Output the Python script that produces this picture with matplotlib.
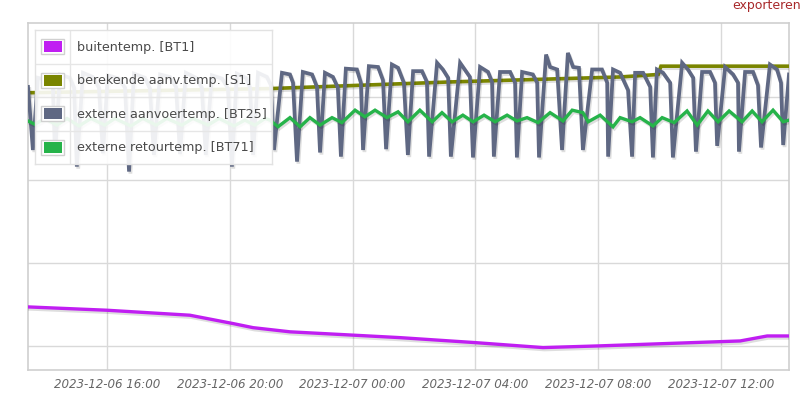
import matplotlib
matplotlib.use('Agg')
import matplotlib.pyplot as plt
import matplotlib.dates as mdates
import matplotlib.patheffects as pe
from matplotlib.patches import Rectangle
from datetime import datetime, timedelta

BASE = datetime(2023, 12, 6)

series_labels = ["buitentemp. [BT1]", "berekende aanv.temp. [S1]",
                 "externe aanvoertemp. [BT25]", "externe retourtemp. [BT71]"]
series_colors = ["#c01ef2", "#7a8500", "#5f6883", "#26b34a"]

# hours since 2023-12-06 00:00 / temperature
buiten_h = [13.43, 16.00, 18.70, 19.26, 20.10, 20.76, 21.96, 24.01, 25.54, 27.99, 30.20, 31.99, 36.62, 37.50, 38.21]
buiten_t = [4.7, 4.3, 3.7, 3.3, 2.7, 2.2, 1.7, 1.3, 1.0, 0.4, -0.2, 0.0, 0.6, 1.2, 1.2]

berek_h = [13.43, 21.31, 27.17, 32.71, 33.95, 34.04, 38.21]
berek_t = [30.5, 31.0, 31.8, 32.4, 32.7, 33.7, 33.7]

aanv_h = [13.43, 13.59, 13.75, 14.08, 14.24, 14.31, 14.47, 14.79, 14.93, 15.02,
          15.22, 15.54, 15.74, 15.87, 16.03, 16.39, 16.59, 16.72, 16.88, 17.24,
          17.40, 17.53, 17.73, 18.05, 18.25, 18.38, 18.57, 18.90, 19.09, 19.22,
          19.42, 19.75, 19.94, 20.07, 20.23, 20.53, 20.66, 20.76, 20.92, 21.21,
          21.34, 21.44, 21.70, 21.96, 22.06, 22.19, 22.38, 22.68, 22.84, 22.94,
          23.10, 23.36, 23.52, 23.62, 23.78, 24.14, 24.27, 24.34, 24.53, 24.83,
          24.99, 25.09, 25.28, 25.48, 25.67, 25.80, 25.97, 26.26, 26.42, 26.49,
          26.75, 26.94, 27.11, 27.20, 27.50, 27.82, 27.92, 28.15, 28.41, 28.54,
          28.60, 28.80, 29.13, 29.29, 29.35, 29.52, 29.87, 30.01, 30.07, 30.30,
          30.43, 30.66, 30.82, 31.01, 31.18, 31.37, 31.50, 31.80, 32.12, 32.29,
          32.32, 32.48, 32.71, 32.97, 33.10, 33.20, 33.46, 33.69, 33.78, 33.91,
          34.11, 34.34, 34.43, 34.73, 34.92, 35.09, 35.18, 35.38, 35.64, 35.80,
          35.87, 36.13, 36.39, 36.55, 36.58, 36.78, 37.04, 37.20, 37.30, 37.59,
          37.82, 37.95, 38.02, 38.21]
aanv_t = [31.2, 23.6, 32.3, 32.0, 31.1, 23.0, 32.7, 32.3, 31.1, 21.6,
          32.9, 32.4, 31.1, 23.2, 32.6, 32.2, 31.1, 21.0, 32.8, 32.3,
          31.0, 23.0, 32.7, 32.4, 31.2, 23.1, 32.9, 32.3, 31.1, 23.0,
          32.6, 32.2, 31.0, 21.6, 32.8, 32.3, 31.1, 23.0, 32.9, 32.4,
          31.4, 23.6, 32.9, 32.7, 31.7, 22.2, 33.0, 32.7, 31.2, 23.3,
          32.9, 32.4, 31.1, 22.8, 33.4, 33.3, 31.7, 23.6, 33.7, 33.6,
          32.0, 23.7, 33.9, 33.5, 31.7, 23.0, 33.1, 33.1, 31.8, 22.8,
          34.1, 33.3, 32.3, 22.8, 34.1, 32.4, 22.7, 33.6, 33.0, 31.8,
          22.8, 33.0, 33.0, 31.7, 22.7, 33.0, 32.7, 31.7, 22.7, 35.1,
          33.6, 33.3, 23.6, 35.3, 33.6, 33.5, 23.6, 33.3, 33.3, 31.7,
          22.8, 33.3, 32.9, 30.8, 22.8, 32.9, 32.9, 31.2, 22.7, 33.3,
          32.9, 31.7, 22.7, 34.1, 33.3, 32.3, 23.4, 33.0, 33.0, 31.7,
          24.1, 33.6, 32.7, 31.7, 23.4, 33.0, 33.0, 31.4, 23.9, 33.9,
          33.3, 31.7, 24.2, 32.7]

retour_h = [13.43, 13.65, 13.98, 14.37, 14.70, 15.09, 15.48, 15.93, 16.26, 16.78,
            17.17, 17.60, 17.95, 18.44, 18.80, 19.29, 19.65, 20.14, 20.49, 20.82,
            21.15, 21.31, 21.57, 21.96, 22.29, 22.61, 22.94, 23.33, 23.65, 24.08,
            24.40, 24.73, 25.12, 25.48, 25.80, 26.19, 26.59, 26.91, 27.24, 27.59,
            27.92, 28.28, 28.64, 29.03, 29.35, 29.68, 30.04, 30.43, 30.85, 31.15,
            31.50, 31.67, 32.06, 32.48, 32.71, 33.10, 33.36, 33.78, 34.08, 34.47,
            34.89, 35.22, 35.57, 35.90, 36.26, 36.68, 37.01, 37.33, 37.69, 38.02,
            38.21]
retour_t = [27.1, 26.7, 27.4, 26.6, 27.4, 26.5, 27.4, 26.6, 27.4, 26.5,
            27.4, 26.6, 27.4, 26.6, 27.4, 26.6, 27.4, 26.5, 27.2, 26.6,
            27.4, 27.2, 26.4, 27.5, 26.4, 27.5, 26.6, 27.5, 26.9, 28.4,
            27.6, 28.4, 27.5, 28.2, 27.0, 28.4, 27.0, 28.1, 27.0, 27.8,
            27.0, 27.8, 27.0, 27.8, 27.1, 27.5, 26.9, 28.1, 27.1, 28.4,
            28.1, 27.0, 27.8, 26.4, 27.5, 27.0, 27.5, 26.5, 27.5, 26.9,
            28.3, 26.6, 28.3, 27.0, 28.3, 27.0, 28.3, 27.0, 28.4, 27.0,
            27.2]

tick_hours = [16, 20, 24, 28, 32, 36]
x_start_h, x_end_h = 13.43, 38.21
y_grid = [0, 10, 20, 30]


def to_dt(hours):
    return [BASE + timedelta(hours=h) for h in hours]


W, H = 800, 399
fig = plt.figure(figsize=(W / 100, H / 100), dpi=100)
ax = fig.add_axes([28 / W, 1 - 370 / H, (789 - 28) / W, (370 - 23) / H])

shadow = [pe.SimpleLineShadow(offset=(1, -1.5), shadow_color='black', alpha=0.13), pe.Normal()]

data = [(buiten_h, buiten_t, 2.4), (berek_h, berek_t, 2.6),
        (aanv_h, aanv_t, 2.7), (retour_h, retour_t, 2.4)]
for (hh, tt, lw), col in zip(data, series_colors):
    ax.plot(to_dt(hh), tt, color=col, lw=lw, solid_joinstyle='miter',
            path_effects=shadow, zorder=3)

ax.set_xlim(BASE + timedelta(hours=x_start_h), BASE + timedelta(hours=x_end_h))
ax.set_ylim(-2.9, 38.9)
ax.set_yticks(y_grid)
ax.set_yticklabels([])
ax.tick_params(axis='y', length=0)
ax.set_xticks(to_dt(tick_hours))
ax.xaxis.set_major_formatter(mdates.DateFormatter('%Y-%m-%d %H:%M'))
ax.tick_params(axis='x', length=0, pad=6, labelsize=8.6, labelcolor='#666666')
for lab in ax.get_xticklabels():
    lab.set_fontstyle('italic')
ax.grid(True, color='#d9d9d9', lw=1)
ax.set_axisbelow(True)
for s in ax.spines.values():
    s.set_color('#cfcfcf')
    s.set_linewidth(1.2)

# legend box
lx0, ly0, lw_, lh_ = 35, 30, 237, 134
lax = fig.add_axes([lx0 / W, 1 - (ly0 + lh_) / H, lw_ / W, lh_ / H])
lax.set_xlim(0, lw_)
lax.set_ylim(lh_, 0)
lax.patch.set_facecolor('white')
lax.patch.set_alpha(0.9)
lax.set_xticks([])
lax.set_yticks([])
for s in lax.spines.values():
    s.set_color('#e2e2e2')
    s.set_linewidth(1)
row_h = lh_ / 4
lax.plot([35, 35], [0, lh_], color='#e6e6e6', lw=1)
for i, (lab, col) in enumerate(zip(series_labels, series_colors)):
    yc = row_h * i + row_h / 2
    if i > 0:
        lax.plot([0, lw_], [row_h * i, row_h * i], color='#e6e6e6', lw=1)
    lax.add_patch(Rectangle((6, yc - 7.5), 23, 15, facecolor='white', edgecolor='#d0d0d0', lw=1))
    lax.add_patch(Rectangle((8.5, yc - 5.5), 18, 11, facecolor=col, edgecolor='none'))
    lax.text(42, yc + 0.5, lab, fontsize=9.2, color='#4a4a4a', va='center', ha='left')

fig.text(732 / W, 1 - 6 / H, "exporteren", color='#a8282a', fontsize=9, va='center', ha='left')

fig.savefig('out.png', dpi=100, facecolor='white')
